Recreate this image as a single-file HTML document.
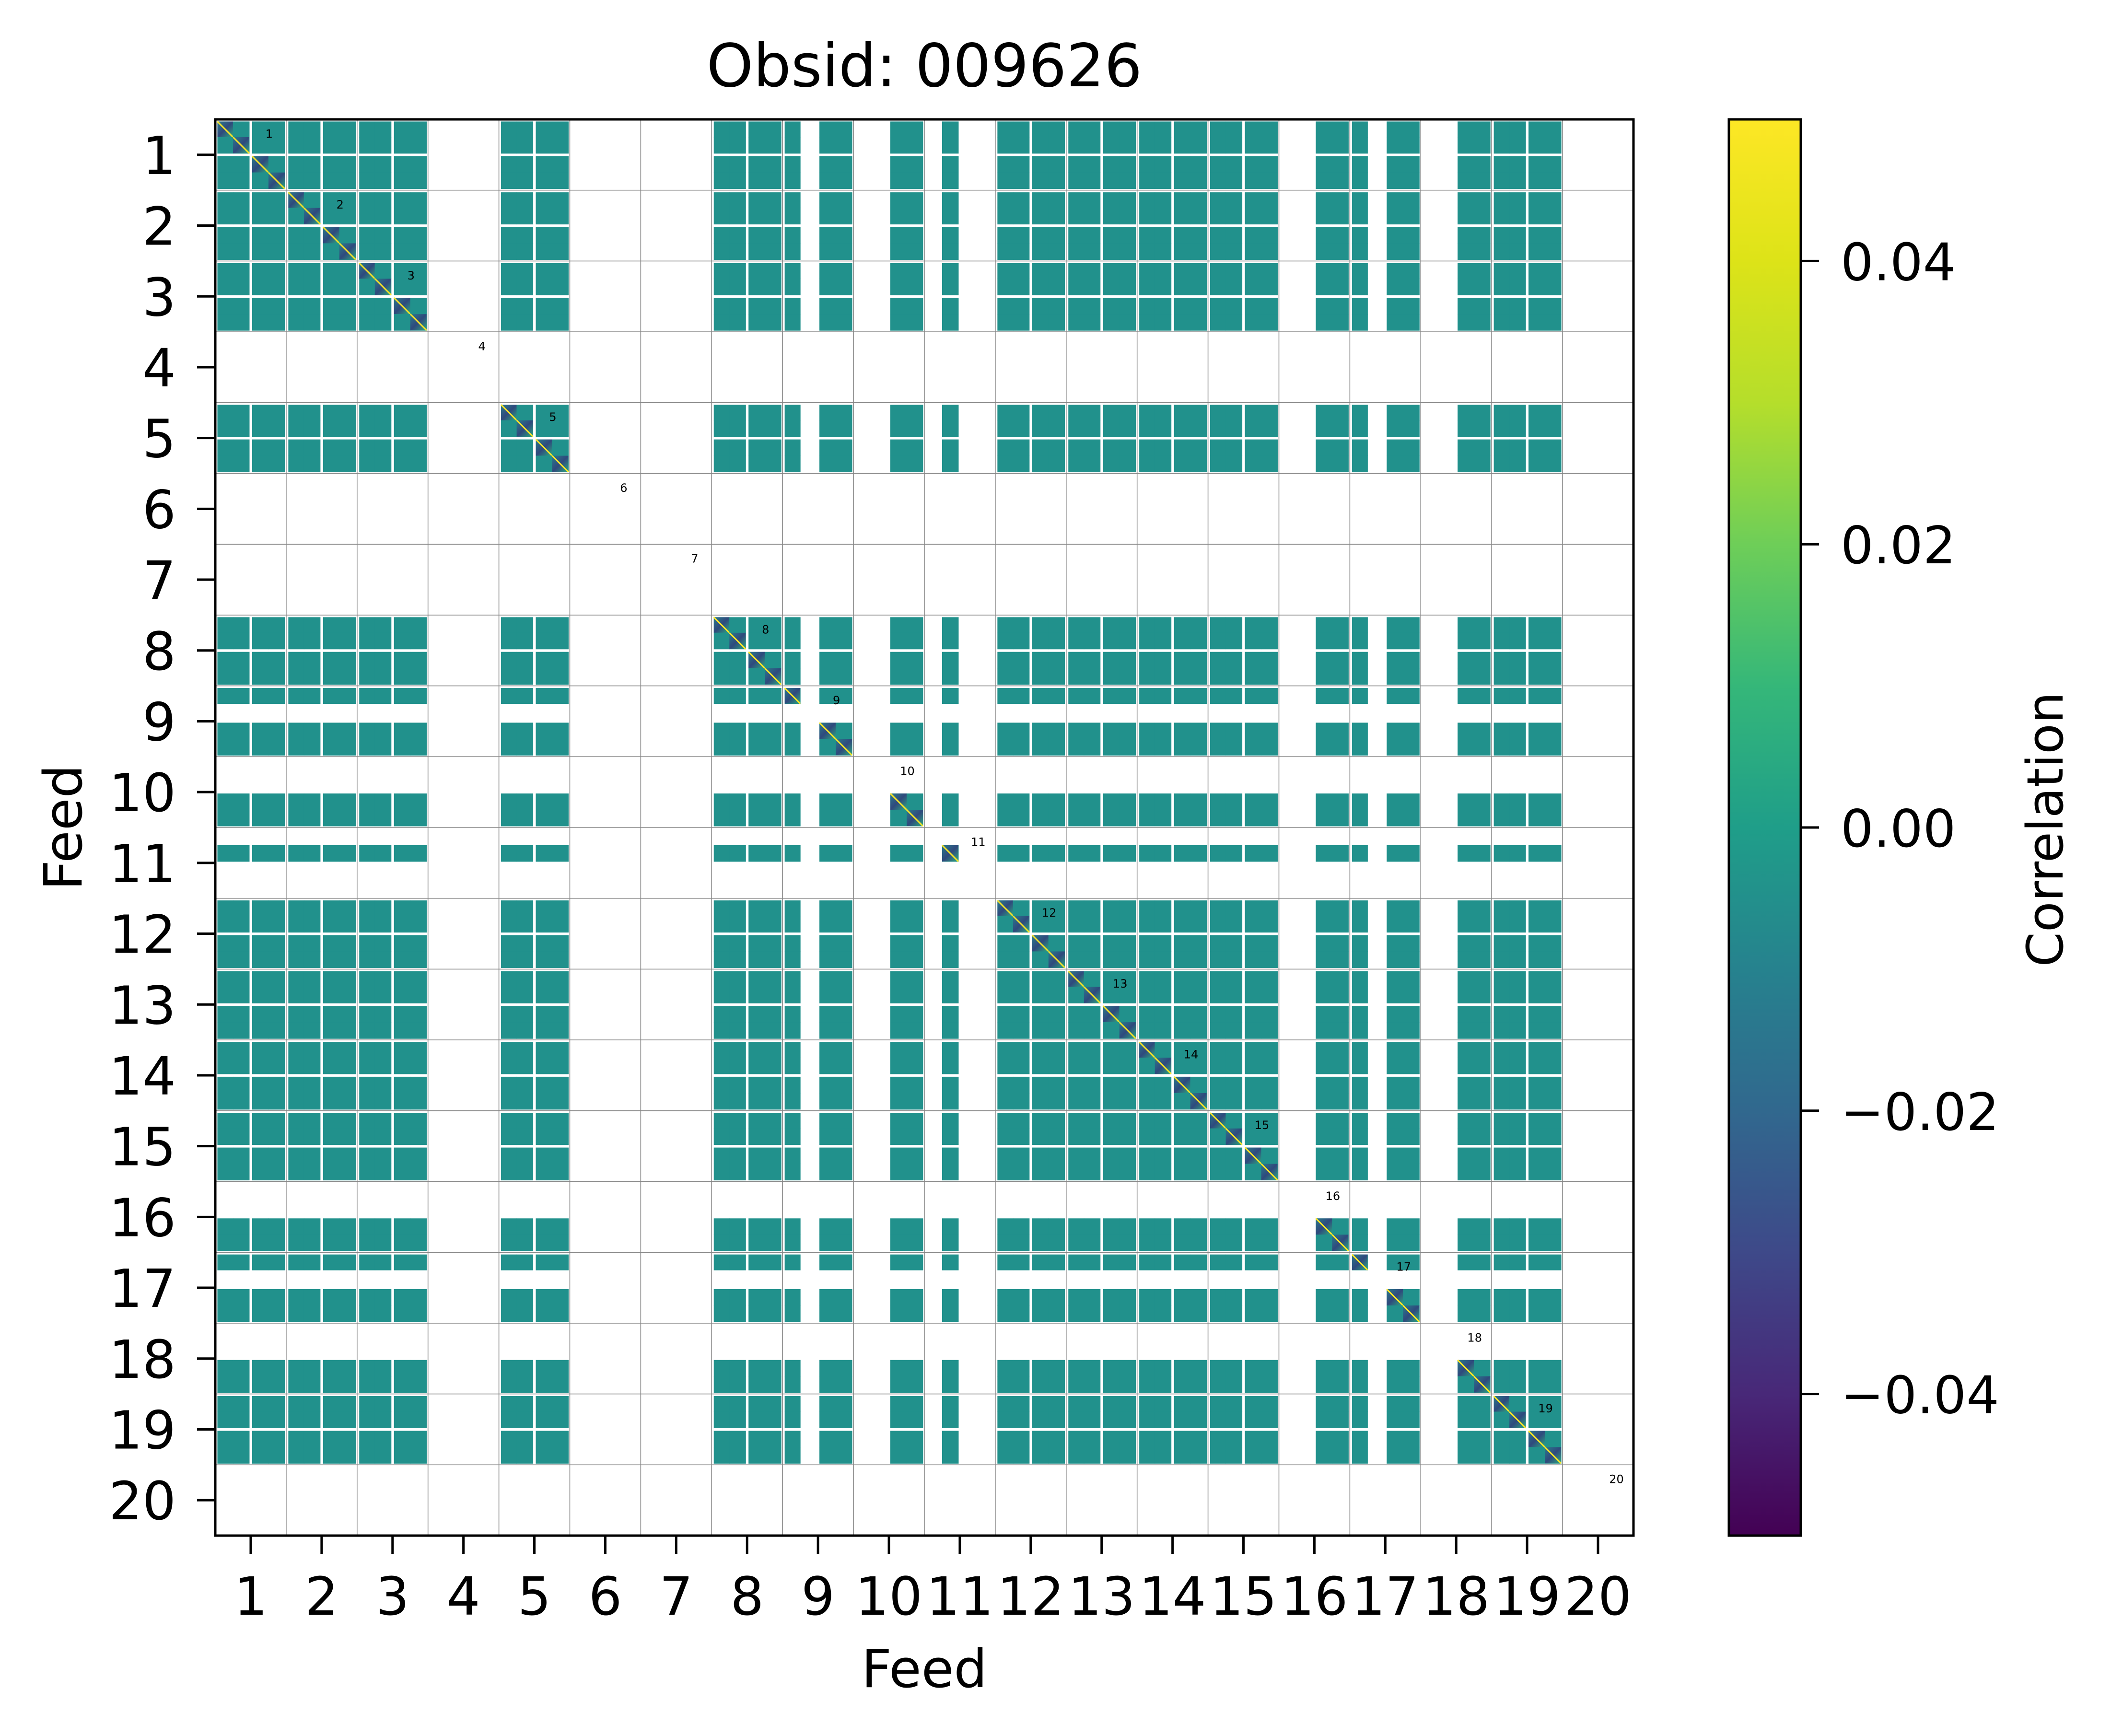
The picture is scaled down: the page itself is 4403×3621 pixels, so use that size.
<!DOCTYPE html>
<html><head><meta charset="utf-8"><style>
html,body{margin:0;padding:0;background:#fff;}
svg{display:block;}
text{font-family:"DejaVu Sans","Liberation Sans",sans-serif;}
</style></head><body>
<svg id="chart" width="4403" height="3621" viewBox="0 0 4403 3621" xmlns="http://www.w3.org/2000/svg">
<defs>
<linearGradient id="viridis" x1="0" y1="1" x2="0" y2="0">
<stop offset="0" stop-color="#440154"/><stop offset="0.1" stop-color="#482878"/>
<stop offset="0.2" stop-color="#3e4989"/><stop offset="0.3" stop-color="#31688e"/>
<stop offset="0.4" stop-color="#26828e"/><stop offset="0.5" stop-color="#1f9e89"/>
<stop offset="0.6" stop-color="#35b779"/><stop offset="0.7" stop-color="#6ece58"/>
<stop offset="0.8" stop-color="#b5de2b"/><stop offset="0.9" stop-color="#dde318"/>
<stop offset="1" stop-color="#fde725"/>
</linearGradient>
<linearGradient id="diagGrad" x1="0" y1="0" x2="1" y2="1">
<stop offset="0" stop-color="#31688e"/><stop offset="0.5" stop-color="#3b0f70"/><stop offset="1" stop-color="#35b779"/>
</linearGradient>
</defs>
<text x="1928" y="180" font-size="124" text-anchor="middle">Obsid: 009626</text>
<g id="heat"></g>
<g id="grid"></g>
<g id="labels"></g>
<rect x="449" y="249" width="2958" height="2954" fill="none" stroke="#000" stroke-width="5"/>
<g id="xticks"></g>
<g id="yticks"></g>
<text x="1928" y="3519" font-size="110" text-anchor="middle">Feed</text>
<text x="170" y="1726" font-size="110" text-anchor="middle" transform="rotate(-90 170 1726)">Feed</text>
<rect x="3606" y="249" width="150" height="2954" fill="url(#viridis)" stroke="#000" stroke-width="5"/>
<g id="cbticks"></g>
<text x="4302" y="1730" font-size="104" text-anchor="middle" transform="rotate(-90 4302 1730)">Correlation</text>
</svg>
<script>
// ---- data ----
const feeds = [1,2,3,4,5,6,7,8,9,10,11,12,13,14,15,16,17,18,19,20];
// active sub-bands (quarters) per feed
const feedMask = [
 [1,1,1,1],[1,1,1,1],[1,1,1,1],[0,0,0,0],[1,1,1,1],
 [0,0,0,0],[0,0,0,0],[1,1,1,1],[1,0,1,1],[0,0,1,1],
 [0,1,0,0],[1,1,1,1],[1,1,1,1],[1,1,1,1],[1,1,1,1],
 [0,0,1,1],[1,0,1,1],[0,0,1,1],[1,1,1,1],[0,0,0,0]
];
const cbTicks = [-0.04,-0.02,0.00,0.02,0.04];
const cbLabels = ["\u22120.04","\u22120.02","0.00","0.02","0.04"];
const cbMin = -0.05, cbMax = 0.05;
const offDiagValue = 0.0;

// ---- layout ----
const NS = "http://www.w3.org/2000/svg";
const X0 = 449, Y0 = 249, W = 2958, H = 2954;
const n = feeds.length;
const cw = W / n, ch = H / n;
const xS = i => X0 + i * cw;     // i = 0-based feed index (cell left)
const yS = i => Y0 + i * ch;
const quarterFrac = [[0.03,0.25],[0.25,0.48],[0.52,0.75],[0.75,0.98]];
function cbY(v){ return Y0 + H - (v - cbMin) / (cbMax - cbMin) * H; }
function viridis(v){
  const t = (v - cbMin) / (cbMax - cbMin);
  const c = ["#440154","#482878","#3e4989","#31688e","#26828e","#1f9e89","#35b779","#6ece58","#b5de2b","#dde318","#fde725"];
  return c[Math.max(0, Math.min(10, Math.round(t * 10)))];
}
function mk(tag, attrs, parent){
  const e = document.createElementNS(NS, tag);
  for (const k in attrs) e.setAttribute(k, attrs[k]);
  parent.appendChild(e); return e;
}
const heat = document.getElementById('heat');
const teal = viridis(offDiagValue) === "#1f9e89" ? "#21918c" : viridis(offDiagValue);

for (let r = 0; r < n; r++) {
  for (let c = 0; c < n; c++) {
    for (let qr = 0; qr < 4; qr++) {
      if (!feedMask[r][qr]) continue;
      for (let qc = 0; qc < 4; qc++) {
        if (!feedMask[c][qc]) continue;
        const x1 = xS(c) + quarterFrac[qc][0] * cw, x2 = xS(c) + quarterFrac[qc][1] * cw;
        const y1 = yS(r) + quarterFrac[qr][0] * ch, y2 = yS(r) + quarterFrac[qr][1] * ch;
        const el = mk('rect', {x: x1, y: y1, width: x2 - x1 + 0.5, height: y2 - y1 + 0.5, fill: teal}, heat);
        
        
        if (r === c && qr === qc) {
          const d = mk('rect', {x: x1, y: y1, width: x2 - x1, height: y2 - y1, fill: 'url(#diagGrad)', opacity: 0.55}, heat);
          
          
          const l = mk('line', {x1: x1, y1: y1, x2: x2, y2: y2, stroke: '#fde725', 'stroke-width': 3}, heat);
          
          
        }
      }
    }
  }
}
// grid
const grid = document.getElementById('grid');
for (let i = 1; i < n; i++) {
  const a = mk('line', {x1: xS(i), y1: Y0, x2: xS(i), y2: Y0 + H, stroke: '#888', 'stroke-width': 1.6}, grid);
  
  
  const b = mk('line', {x1: X0, y1: yS(i), x2: X0 + W, y2: yS(i), stroke: '#888', 'stroke-width': 1.6}, grid);
  
  
}
// diagonal labels
const labels = document.getElementById('labels');
feeds.forEach((f, i) => {
  const t = mk('text', {x: xS(i) + 0.76 * cw, y: yS(i) + 0.26 * ch, 'font-size': 24, 'text-anchor': 'middle'}, labels);
  
  
  t.textContent = f;
});
// axes ticks
const xt = document.getElementById('xticks'), yt = document.getElementById('yticks');
feeds.forEach((f, i) => {
  const cx = xS(i) + cw / 2, cy = yS(i) + ch / 2;
  const a = mk('line', {x1: cx, y1: Y0 + H, x2: cx, y2: Y0 + H + 38, stroke: '#000', 'stroke-width': 5}, xt);
  
  
  const b = mk('text', {x: cx, y: 3368, 'font-size': 110, 'text-anchor': 'middle'}, xt);
  
  
  b.textContent = f;
  const c = mk('line', {x1: X0 - 38, y1: cy, x2: X0, y2: cy, stroke: '#000', 'stroke-width': 5}, yt);
  
  
  const d = mk('text', {x: 367, y: cy + 40, 'font-size': 110, 'text-anchor': 'end'}, yt);
  
  
  d.textContent = f;
});
// colorbar ticks
const cbt = document.getElementById('cbticks');
cbTicks.forEach((v, i) => {
  const y = cbY(v);
  const a = mk('line', {x1: 3756, y1: y, x2: 3794, y2: y, stroke: '#000', 'stroke-width': 5}, cbt);
  
  
  const b = mk('text', {x: 3839, y: y + 40, 'font-size': 108}, cbt);
  
  
  b.textContent = cbLabels[i];
});
</script>
</body></html>
